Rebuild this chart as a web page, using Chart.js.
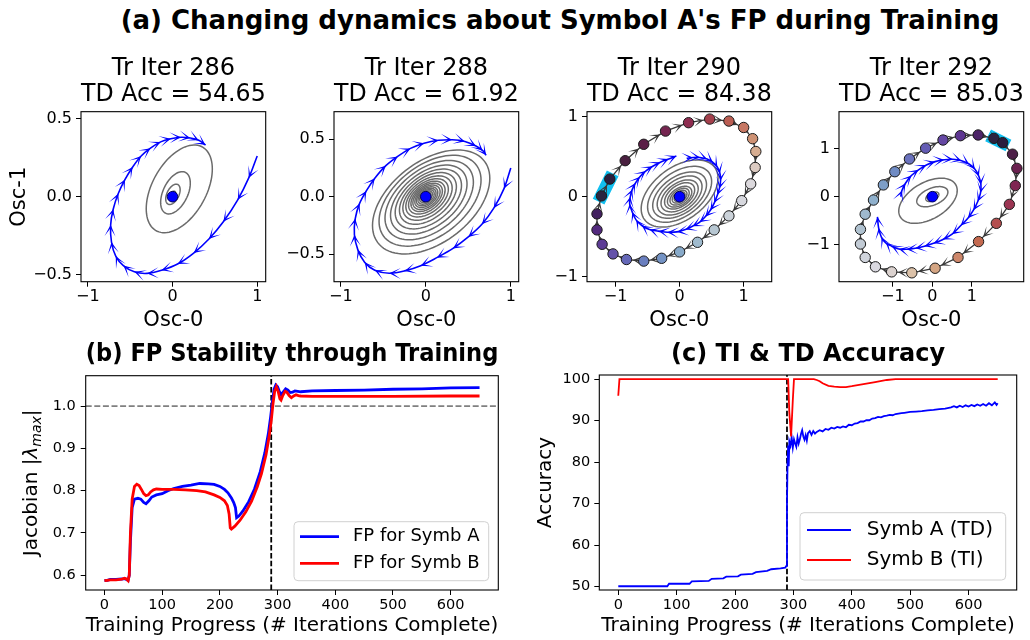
<!DOCTYPE html>
<html>
<head>
<meta charset="utf-8">
<title>FP dynamics during training</title>
<script src="https://cdn.jsdelivr.net/npm/chart.js@4.4.1/dist/chart.umd.min.js"></script>
<style>
  body { margin: 0; background: #fff; }
  #wrap { position: relative; width: 1030px; height: 640px; overflow: hidden; background: #fff; }
  #title { position: absolute; left: 45px; top: 5px; width: 1030px; text-align: center;
           font: bold 26px "DejaVu Sans"; line-height: 30px; color: #000; white-space: nowrap; }
  canvas { position: absolute; }
</style>
</head>
<body>
<div id="wrap">
  <div id="title">(a) Changing dynamics about Symbol A's FP during Training</div>
  <canvas id="p286" width="272" height="288" style="left:0px;top:50px"></canvas>
  <canvas id="p288" width="241" height="288" style="left:284px;top:50px"></canvas>
  <canvas id="p290" width="241" height="288" style="left:537px;top:50px"></canvas>
  <canvas id="p292" width="241" height="288" style="left:789px;top:50px"></canvas>
  <canvas id="stab" width="510" height="300" style="left:0px;top:340px"></canvas>
  <canvas id="acc" width="510" height="300" style="left:520px;top:340px"></canvas>
</div>
<script>
Chart.defaults.font.family = '"DejaVu Sans", sans-serif';
Chart.defaults.color = '#000';

// ---------- (a) phase portraits ----------
const snapIters = [286, 288, 290, 292];
const snapTdAcc = ['54.65', '61.92', '84.38', '85.03'];
const fixedPoint = [0, 0];

const unitTicks = [-1, 0, 1];
const unitTickLabels = ['\u22121', '0', '1'];
const halfTicks = [-0.5, 0, 0.5];
const halfTickLabels = ['\u22120.5', '0.0', '0.5'];

// axis limits per snapshot
const p286X = [-1.08, 1.10], p286Y = [-0.543, 0.543];
const p288X = [-1.08, 1.093], p288Y = [-0.739, 0.739];
const p290X = [-1.446, 1.438], p290Y = [-1.0625, 1.0625];
const p292X = [-2.363, 2.313], p292Y = [-1.77, 1.77];

// blue trajectories (Osc-0, Osc-1)
const p286TrajX = [1.0, 0.9, 0.77, 0.6, 0.43, 0.25, 0.06, -0.13, -0.3, -0.45, -0.58, -0.67, -0.72, -0.73, -0.7, -0.64, -0.56, -0.47, -0.37, -0.26, -0.14, -0.02, 0.1, 0.21, 0.31, 0.39];
const p286TrajY = [0.26, 0.12, -0.02, -0.16, -0.27, -0.36, -0.43, -0.47, -0.49, -0.48, -0.44, -0.38, -0.29, -0.18, -0.08, 0.02, 0.11, 0.19, 0.26, 0.31, 0.35, 0.37, 0.38, 0.375, 0.36, 0.33];

const p288TrajX = [1.0, 0.92, 0.8, 0.66, 0.5, 0.32, 0.13, -0.06, -0.25, -0.43, -0.6, -0.72, -0.8, -0.84, -0.83, -0.78, -0.7, -0.6, -0.47, -0.33, -0.18, -0.02, 0.15, 0.31, 0.46, 0.59, 0.67, 0.71];
const p288TrajY = [0.25, 0.07, -0.1, -0.24, -0.35, -0.45, -0.53, -0.6, -0.645, -0.665, -0.64, -0.57, -0.46, -0.33, -0.19, -0.06, 0.05, 0.16, 0.27, 0.35, 0.42, 0.465, 0.49, 0.495, 0.48, 0.44, 0.4, 0.36];

const p290TrajX = [0.11, 0.21, 0.32, 0.43, 0.52, 0.59, 0.63, 0.64, 0.62, 0.59, 0.54, 0.48, 0.4, 0.31, 0.2, 0.09, -0.04, -0.19, -0.33, -0.47, -0.59, -0.68, -0.74, -0.78, -0.77, -0.74, -0.69, -0.62, -0.53, -0.42, -0.3, -0.17, -0.05];
const p290TrajY = [0.48, 0.49, 0.49, 0.47, 0.43, 0.37, 0.29, 0.2, 0.1, 0.02, -0.08, -0.17, -0.25, -0.32, -0.37, -0.41, -0.44, -0.445, -0.43, -0.41, -0.36, -0.29, -0.19, -0.09, 0.0, 0.09, 0.17, 0.25, 0.32, 0.38, 0.43, 0.47, 0.51];

const p292TrajX = [-0.8, -0.77, -0.68, -0.53, -0.35, -0.15, 0.07, 0.3, 0.52, 0.74, 0.93, 1.08, 1.18, 1.23, 1.22, 1.15, 1.04, 0.9, 0.72, 0.5, 0.27, 0.03, -0.2, -0.43, -0.65, -0.85, -1.03, -1.18, -1.29, -1.36, -1.39];
const p292TrajY = [0.0, 0.13, 0.28, 0.44, 0.56, 0.66, 0.73, 0.77, 0.78, 0.75, 0.68, 0.57, 0.42, 0.25, 0.08, -0.1, -0.28, -0.45, -0.6, -0.78, -0.89, -0.97, -1.03, -1.075, -1.095, -1.09, -1.03, -0.96, -0.84, -0.65, -0.42];

// gray contours around the fixed point: [cx, cy, rx, ry]
const p286Rings = [[0.08, 0.05, 0.39, 0.28], [0.035, 0.025, 0.175, 0.135], [0.005, 0.015, 0.085, 0.065], [0, 0.005, 0.04, 0.03]];
const p288Rings = [[0.063, -0.046, 0.69, 0.452], [0.05, -0.035, 0.6, 0.395], [0.04, -0.03, 0.52, 0.345], [0.035, -0.025, 0.45, 0.3],
  [0.03, -0.02, 0.39, 0.26], [0.025, -0.015, 0.335, 0.225], [0.02, -0.012, 0.29, 0.193], [0.015, -0.01, 0.25, 0.166],
  [0.012, -0.008, 0.215, 0.143], [0.01, -0.006, 0.185, 0.123], [0.008, -0.005, 0.16, 0.106], [0.006, -0.004, 0.135, 0.09],
  [0.005, -0.003, 0.115, 0.076], [0.004, -0.002, 0.095, 0.063], [0.003, 0, 0.075, 0.05], [0.002, 0, 0.058, 0.039], [0, 0, 0.042, 0.028]];
const p290Rings = [[0, 0.04, 0.6, 0.42], [0, 0.03, 0.5, 0.35], [0, 0.02, 0.42, 0.29], [0, 0.015, 0.35, 0.245], [0, 0.01, 0.29, 0.2],
  [0, 0.01, 0.235, 0.165], [0, 0, 0.19, 0.13], [0, 0, 0.15, 0.105], [0, 0, 0.115, 0.08], [0, 0, 0.085, 0.06], [0, 0, 0.06, 0.04]];
const p292Rings = [[-0.11, -0.085, 0.74, 0.47], [0, 0, 0.394, 0.21], [0, 0, 0.165, 0.1], [0, 0, 0.07, 0.045]];
const ringTilt = 1.1;

// symbol B trajectory samples (outer loop)
const p290LoopX = [-1.22, -1.09, -0.85, -0.56, -0.22, 0.14, 0.47, 0.77, 1.0, 1.14, 1.19, 1.18, 1.11, 0.97, 0.77, 0.54, 0.28, 0.0, -0.28, -0.56, -0.83, -1.04, -1.21, -1.29, -1.29];
const p290LoopY = [0.01, 0.22, 0.45, 0.655, 0.82, 0.925, 0.97, 0.945, 0.865, 0.725, 0.565, 0.365, 0.16, -0.05, -0.24, -0.415, -0.57, -0.69, -0.77, -0.805, -0.785, -0.715, -0.595, -0.415, -0.215];
const p292LoopX = [1.56, 1.78, 2.03, 2.14, 2.1, 1.95, 1.62, 1.17, 0.65, 0.07, -0.52, -1.03, -1.44, -1.7, -1.82, -1.82, -1.7, -1.49, -1.24, -0.95, -0.58, -0.17, 0.27, 0.71, 1.16];
const p292LoopY = [1.215, 1.125, 0.885, 0.59, 0.23, -0.16, -0.555, -0.935, -1.265, -1.49, -1.585, -1.565, -1.46, -1.265, -0.985, -0.68, -0.365, -0.07, 0.245, 0.52, 0.785, 1.01, 1.18, 1.27, 1.285];

const p290LoopColors = ['#2a2541', '#2b1f3f', '#4a2040', '#5a1f46', '#752550', '#8e2d50', '#a4404c', '#bb5e53', '#c67763', '#ce9274', '#d6ad91', '#dccbc2',
  '#dcd9dd', '#d7d8de', '#cbd2d9', '#b7c7d2', '#9fbacd', '#88aac9', '#7493c4', '#6a7fbf', '#6467b7', '#6452a9', '#5d3c95', '#532a7e', '#42205f'];
const p292LoopColors = ['#2b2340', '#2a1e3e', '#4d1f48', '#6b2150', '#7f2652', '#9b3552', '#b44f4f', '#c3694f', '#cd876b', '#d4a583', '#dbc1a8', '#dbd2cf',
  '#dad9e0', '#d0d4dc', '#c2cbd5', '#b0c2d0', '#9fb9ce', '#8fb0cc', '#7d9ec7', '#6f8bc3', '#6a72bd', '#645cb4', '#6548a3', '#5e3691', '#4d2468'];

// ---------- (b) FP stability ----------
const symbAIter = [0, 5, 10, 20, 30, 35, 38, 41, 43, 45, 48, 52, 58, 63, 68, 72, 77, 82, 90, 100, 110, 120, 135, 150, 165, 180, 190, 200, 208, 214,
  220, 224, 227, 229, 233, 240, 250, 260, 270, 278, 284, 288, 291, 294, 297, 300, 303, 306, 310, 314, 318, 322, 326, 330, 335, 340, 360, 400, 450, 500, 550, 600, 650];
const symbAJac = [0.587, 0.588, 0.59, 0.59, 0.591, 0.592, 0.59, 0.588, 0.6, 0.68, 0.76, 0.78, 0.782, 0.78, 0.772, 0.769, 0.776, 0.785, 0.79, 0.793,
  0.8, 0.805, 0.81, 0.813, 0.817, 0.816, 0.815, 0.81, 0.803, 0.795, 0.783, 0.772, 0.76, 0.736, 0.74, 0.752, 0.774, 0.804, 0.845, 0.89,
  0.935, 0.975, 1.01, 1.04, 1.05, 1.046, 1.035, 1.027, 1.034, 1.041, 1.038, 1.032, 1.033, 1.036, 1.035, 1.034, 1.036, 1.037, 1.038, 1.04, 1.041, 1.043, 1.044];
const symbBIter = [0, 5, 10, 20, 30, 35, 38, 41, 43, 45, 48, 52, 56, 60, 64, 68, 72, 76, 80, 85, 90, 100, 120, 140, 160, 175, 190, 200, 208, 213,
  216, 218, 220, 226, 235, 245, 255, 265, 272, 280, 285, 289, 292, 295, 298, 301, 304, 306, 309, 313, 316, 320, 324, 328, 332, 336, 340, 360, 400, 500, 600, 650];
const symbBJac = [0.587, 0.588, 0.589, 0.589, 0.591, 0.593, 0.591, 0.587, 0.6, 0.7, 0.78, 0.81, 0.815, 0.812, 0.803, 0.793, 0.788, 0.79, 0.797, 0.802,
  0.804, 0.803, 0.803, 0.802, 0.8, 0.797, 0.79, 0.784, 0.776, 0.765, 0.745, 0.712, 0.709, 0.716, 0.73, 0.75, 0.775, 0.81, 0.84, 0.885,
  0.925, 0.965, 1.005, 1.035, 1.046, 1.035, 1.017, 1.014, 1.025, 1.035, 1.033, 1.025, 1.02, 1.024, 1.027, 1.025, 1.024, 1.023, 1.023, 1.023, 1.024, 1.024];
const jacUnity = 1.0;
const jacRange = [0.565, 1.072];
const jacTicks = [0.6, 0.7, 0.8, 0.9, 1.0];
const jacTickLabels = ['0.6', '0.7', '0.8', '0.9', '1.0'];

// ---------- (c) accuracy ----------
const tdIter = [0, 84, 87, 122, 126, 155, 160, 180, 185, 205, 210, 230, 236, 255, 262, 278, 286, 288, 289, 290, 291, 292, 293, 295, 297, 299, 301, 303, 305, 307,
  309, 311, 313, 315, 317, 319, 321, 323, 325, 328, 331, 334, 337, 340, 345, 350, 355, 360, 365, 370, 375, 380, 385, 390, 395, 400, 405, 410, 415, 420,
  425, 430, 435, 440, 445, 450, 455, 460, 465, 470, 475, 480, 485, 490, 495, 500, 510, 520, 530, 540, 550, 560, 570, 575, 580, 585, 590, 595, 600, 605,
  610, 615, 620, 625, 630, 635, 640, 645, 648, 650];
const tdAcc = [50.1, 50.1, 50.7, 50.7, 51.3, 51.4, 51.9, 52.0, 52.4, 52.5, 52.9, 53.1, 53.5, 53.8, 54.2, 54.4, 54.6, 55.0, 70, 80, 84, 79, 85, 84, 86, 83.5, 85.5, 84.5, 83.7, 86,
  84.5, 85.5, 86.8, 87.7, 86.2, 85.4, 86.5, 85.2, 87, 87.5, 86.6, 87.5, 86.9, 87.3, 87.7, 87.4, 88, 87.8, 88.3, 88.1, 88.5, 88.3, 88.6, 88.4, 89, 88.9, 89.3, 89.4, 89.8, 89.8,
  90.1, 90.1, 90.5, 90.6, 90.9, 90.8, 91.1, 91.2, 91.4, 91.3, 91.6, 91.7, 91.8, 91.9, 92, 92.1, 92.2, 92.3, 92.5, 92.6, 92.8, 92.9, 93.2, 93.5, 93.2, 93.6, 93.3, 93.7, 93.4, 93.8,
  93.5, 93.9, 93.6, 94, 93.6, 94.2, 93.7, 94.4, 93.8, 94.2];
const tiIter = [0, 2, 291, 293, 296, 299, 301, 335, 340, 345, 350, 360, 370, 380, 390, 400, 420, 440, 460, 475, 650];
const tiAcc = [96, 100, 100, 92, 86.2, 95, 100, 100, 99.8, 99.5, 99.0, 98.4, 98.2, 98.1, 98.1, 98.3, 98.8, 99.3, 99.8, 100, 100];
const accRange = [49.2, 101.0];
const accTicks = [50, 60, 70, 80, 90, 100];

const iterRange = [-32.5, 682.5];
const iterTicks = [0, 100, 200, 300, 400, 500, 600];
const transitionIter = 289;

// ---------- helpers ----------
const pts = (xs, ys) => xs.map((x, i) => ({ x: x, y: ys[i] }));

function zeroPad(s) { s.paddingLeft = 0; s.paddingRight = 0; s.paddingTop = 0; s.paddingBottom = 0; }

function fixedTicks(values) {
  return s => { s.ticks = values.map(v => ({ value: v })); };
}

function head(ctx, x, y, ang, len, half, notch, color) {
  ctx.save();
  ctx.translate(x, y);
  ctx.rotate(ang);
  ctx.beginPath();
  ctx.moveTo(0, 0);
  ctx.lineTo(-len, half);
  ctx.lineTo(-len + notch, 0);
  ctx.lineTo(-len, -half);
  ctx.closePath();
  ctx.fillStyle = color;
  ctx.fill();
  ctx.restore();
}

const arrowPlugin = {
  id: 'arrows',
  afterDatasetDraw(chart, args) {
    const ds = chart.data.datasets[args.index];
    if (!ds.arrowMode) return;
    const p = args.meta.data;
    const ctx = chart.ctx;
    for (let i = 1; i < p.length; i++) {
      const a = p[i - 1], b = p[i];
      if (ds.arrowMode === 'ring') {
        const ang = Math.atan2(b.y - a.y, b.x - a.x);
        head(ctx, b.x - Math.cos(ang) * 6.5, b.y - Math.sin(ang) * 6.5, ang, 10, 5, 6.5, ds.borderColor);
      } else {
        const c = p[i + 1] || b;
        const ang = Math.atan2(c.y - a.y, c.x - a.x);
        head(ctx, b.x, b.y, ang, 11.5, 5.5, 8, ds.borderColor);
      }
    }
  }
};

function contourPlugin(list, tilt) {
  return {
    id: 'contours',
    beforeDatasetsDraw(chart) {
      const { ctx, chartArea: a } = chart;
      const sx = chart.scales.x, sy = chart.scales.y;
      ctx.save();
      ctx.beginPath();
      ctx.rect(a.left, a.top, a.width, a.height);
      ctx.clip();
      ctx.strokeStyle = '#6b6b6b';
      ctx.lineWidth = 1.5;
      list.forEach(([cx, cy, rx, ry]) => {
        ctx.beginPath();
        for (let k = 0; k <= 90; k++) {
          const t = k / 90 * 2 * Math.PI;
          const px = sx.getPixelForValue(cx + rx * Math.cos(t));
          const py = sy.getPixelForValue(cy + ry * Math.cos(t - tilt));
          if (k) ctx.lineTo(px, py); else ctx.moveTo(px, py);
        }
        ctx.closePath();
        ctx.stroke();
      });
      ctx.restore();
    }
  };
}

const framePlugin = {
  id: 'frame',
  afterDatasetsDraw(chart) {
    const { ctx, chartArea: a } = chart;
    ctx.save();
    ctx.strokeStyle = '#000';
    ctx.lineWidth = 1.1;
    ctx.strokeRect(a.left, a.top, a.width, a.height);
    ctx.restore();
  }
};

function tickGrid() {
  return { drawOnChartArea: false, drawTicks: true, tickLength: 5, tickWidth: 1, tickColor: '#000', color: '#000' };
}

function phasePanel(id, o) {
  const datasets = [];
  if (o.loopX) {
    const loop = pts(o.loopX, o.loopY);
    datasets.push({ data: loop.slice(0, 2), borderColor: '#12bff0', borderWidth: 13, borderCapStyle: 'square', pointRadius: 0, order: 6 });
    datasets.push({ data: loop.concat([loop[0]]), borderColor: '#383838', borderWidth: 1.3, pointRadius: 0, arrowMode: 'ring', order: 5 });
    datasets.push({ data: loop, showLine: false, pointRadius: 5.2, pointBackgroundColor: o.loopColors,
      pointBorderColor: '#1a1a1a', pointBorderWidth: 1, order: 4 });
  }
  datasets.push({ data: pts(o.trajX, o.trajY), borderColor: '#0000ff', borderWidth: 1.6, tension: 0.35, pointRadius: 0, arrowMode: 'traj', order: 3 });
  datasets.push({ data: [{ x: fixedPoint[0], y: fixedPoint[1] }], showLine: false, pointRadius: 5.3, pointBackgroundColor: '#0000ff',
    pointBorderColor: '#00005a', pointBorderWidth: 1, order: 1 });

  const yW = o.yTitle ? 81 : 50;
  new Chart(document.getElementById(id), {
    type: 'line',
    data: { datasets: datasets },
    options: {
      responsive: false, animation: false, events: [],
      layout: { padding: { right: 3 } },
      plugins: {
        legend: { display: false }, tooltip: { enabled: false },
        title: { display: true, fullSize: false, text: ['Tr Iter ' + o.iter, 'TD Acc = ' + o.acc], color: '#000',
          font: { size: 24, weight: 'normal', lineHeight: 1.11 }, padding: { top: 5.1, bottom: 3.3 } }
      },
      scales: {
        x: {
          type: 'linear', min: o.xr[0], max: o.xr[1],
          afterBuildTicks: fixedTicks(unitTicks),
          afterFit: s => { s.height = 56.3; zeroPad(s); },
          ticks: { font: { size: 16 }, padding: 1, autoSkip: false, maxRotation: 0, callback: (v, i) => unitTickLabels[i] },
          grid: tickGrid(), border: { display: false },
          title: { display: true, text: 'Osc-0', font: { size: 21 }, padding: { top: 0, bottom: 4.7 } }
        },
        y: {
          type: 'linear', min: o.yr[0], max: o.yr[1],
          afterBuildTicks: fixedTicks(o.yTicks),
          afterFit: s => { s.width = yW; zeroPad(s); },
          ticks: { font: { size: 16 }, padding: 4, autoSkip: false, callback: (v, i) => o.yLabels[i] },
          grid: tickGrid(), border: { display: false },
          title: { display: !!o.yTitle, text: o.yTitle || '', font: { size: 21 }, padding: { top: 6.8, bottom: 0 } }
        }
      }
    },
    plugins: [contourPlugin(o.rings, ringTilt), arrowPlugin, framePlugin]
  });
}

phasePanel('p286', { iter: snapIters[0], acc: snapTdAcc[0], xr: p286X, yr: p286Y, yTicks: halfTicks, yLabels: halfTickLabels, yTitle: 'Osc-1',
  trajX: p286TrajX, trajY: p286TrajY, rings: p286Rings });
phasePanel('p288', { iter: snapIters[1], acc: snapTdAcc[1], xr: p288X, yr: p288Y, yTicks: halfTicks, yLabels: halfTickLabels,
  trajX: p288TrajX, trajY: p288TrajY, rings: p288Rings });
phasePanel('p290', { iter: snapIters[2], acc: snapTdAcc[2], xr: p290X, yr: p290Y, yTicks: unitTicks, yLabels: unitTickLabels,
  trajX: p290TrajX, trajY: p290TrajY, rings: p290Rings, loopX: p290LoopX, loopY: p290LoopY, loopColors: p290LoopColors });
phasePanel('p292', { iter: snapIters[3], acc: snapTdAcc[3], xr: p292X, yr: p292Y, yTicks: unitTicks, yLabels: unitTickLabels,
  trajX: p292TrajX, trajY: p292TrajY, rings: p292Rings, loopX: p292LoopX, loopY: p292LoopY, loopColors: p292LoopColors });

// ---------- bottom row ----------
function roundedRect(ctx, x, y, w, h, r) {
  ctx.beginPath();
  ctx.moveTo(x + r, y);
  ctx.lineTo(x + w - r, y); ctx.quadraticCurveTo(x + w, y, x + w, y + r);
  ctx.lineTo(x + w, y + h - r); ctx.quadraticCurveTo(x + w, y + h, x + w - r, y + h);
  ctx.lineTo(x + r, y + h); ctx.quadraticCurveTo(x, y + h, x, y + h - r);
  ctx.lineTo(x, y + r); ctx.quadraticCurveTo(x, y, x + r, y);
  ctx.closePath();
}

function boxLegend(cfg) {
  return {
    id: 'boxLegend',
    afterDraw(chart) {
      const { ctx, chartArea: a } = chart;
      const items = chart.data.datasets.filter(d => d.label);
      const x0 = a.right - cfg.right - cfg.w;
      const y0 = a.bottom - cfg.bottom - cfg.h;
      ctx.save();
      roundedRect(ctx, x0, y0, cfg.w, cfg.h, 4);
      ctx.fillStyle = 'rgba(255,255,255,0.8)';
      ctx.fill();
      ctx.strokeStyle = '#d0d0d0';
      ctx.lineWidth = 1;
      ctx.stroke();
      ctx.font = cfg.size + 'px "DejaVu Sans"';
      ctx.textBaseline = 'middle';
      ctx.fillStyle = '#000';
      items.forEach((d, i) => {
        const y = y0 + cfg.first + i * cfg.row;
        ctx.strokeStyle = d.borderColor;
        ctx.lineWidth = d.borderWidth;
        ctx.beginPath();
        ctx.moveTo(x0 + cfg.lx, y);
        ctx.lineTo(x0 + cfg.lx + cfg.len, y);
        ctx.stroke();
        ctx.fillText(d.label, x0 + cfg.tx, y);
      });
      ctx.restore();
    }
  };
}

// y label with subscript: Jacobian |λ_max|
const jacLabel = {
  id: 'jacLabel',
  afterDraw(chart) {
    const { ctx, chartArea: a } = chart;
    const parts = [['Jacobian |', '20px "DejaVu Sans"', 0], ['\u03bb', 'italic 20px "DejaVu Sans"', 0],
      ['max', 'italic 14px "DejaVu Sans"', 4], ['|', '20px "DejaVu Sans"', 0]];
    ctx.save();
    let total = 0;
    parts.forEach(p => { ctx.font = p[1]; total += ctx.measureText(p[0]).width; });
    ctx.translate(36.5, (a.top + a.bottom) / 2);
    ctx.rotate(-Math.PI / 2);
    ctx.fillStyle = '#000';
    ctx.textBaseline = 'alphabetic';
    let x = -total / 2;
    parts.forEach(p => { ctx.font = p[1]; ctx.fillText(p[0], x, p[2]); x += ctx.measureText(p[0]).width; });
    ctx.restore();
  }
};

function iterAxis() {
  return {
    type: 'linear', min: iterRange[0], max: iterRange[1],
    afterBuildTicks: fixedTicks(iterTicks),
    afterFit: s => { s.height = 50; zeroPad(s); },
    ticks: { font: { size: 14.5 }, padding: 2, autoSkip: false, maxRotation: 0 },
    grid: tickGrid(), border: { display: false },
    title: { display: true, text: 'Training Progress (# Iterations Complete)', font: { size: 20 }, padding: { top: 0, bottom: 2.4 } }
  };
}

new Chart(document.getElementById('stab'), {
  type: 'line',
  data: {
    datasets: [
      { label: 'FP for Symb A', data: pts(symbAIter, symbAJac), borderColor: '#0000ff', borderWidth: 2.8, pointRadius: 0, order: 2 },
      { label: 'FP for Symb B', data: pts(symbBIter, symbBJac), borderColor: '#ff0000', borderWidth: 2.8, pointRadius: 0, order: 1 },
      { data: [{ x: iterRange[0], y: jacUnity }, { x: iterRange[1], y: jacUnity }], borderColor: '#808080', borderWidth: 1.8,
        borderDash: [6, 2.6], pointRadius: 0, order: 4 },
      { data: [{ x: transitionIter, y: jacRange[0] }, { x: transitionIter, y: jacRange[1] }], borderColor: '#000', borderWidth: 1.8,
        borderDash: [5.5, 2.4], pointRadius: 0, order: 3 }
    ]
  },
  options: {
    responsive: false, animation: false, events: [],
    layout: { padding: { right: 11.7 } },
    plugins: {
      legend: { display: false }, tooltip: { enabled: false },
      title: { display: true, fullSize: false, text: '(b) FP Stability through Training', color: '#000',
        font: { size: 24, weight: 'bold', lineHeight: 1.2 }, padding: { top: 0, bottom: 6.9 } }
    },
    scales: {
      x: iterAxis(),
      y: {
        type: 'linear', min: jacRange[0], max: jacRange[1],
        afterBuildTicks: fixedTicks(jacTicks),
        afterFit: s => { s.width = 85.7; zeroPad(s); },
        ticks: { font: { size: 14.5 }, padding: 5, autoSkip: false, callback: (v, i) => jacTickLabels[i] },
        grid: tickGrid(), border: { display: false }
      }
    }
  },
  plugins: [framePlugin, jacLabel,
    boxLegend({ w: 194.7, h: 59, right: 9.6, bottom: 9.3, first: 15, row: 26.6, lx: 6, len: 39, tx: 59, size: 18 })]
});

new Chart(document.getElementById('acc'), {
  type: 'line',
  data: {
    datasets: [
      { label: 'Symb A (TD)', data: pts(tdIter, tdAcc), borderColor: '#0000ff', borderWidth: 1.8, pointRadius: 0, order: 2 },
      { label: 'Symb B (TI)', data: pts(tiIter, tiAcc), borderColor: '#ff0000', borderWidth: 1.8, pointRadius: 0, order: 1 },
      { data: [{ x: transitionIter, y: accRange[0] }, { x: transitionIter, y: accRange[1] }], borderColor: '#000', borderWidth: 1.8,
        borderDash: [5.5, 2.4], pointRadius: 0, order: 3 }
    ]
  },
  options: {
    responsive: false, animation: false, events: [],
    layout: { padding: { right: 13.3 } },
    plugins: {
      legend: { display: false }, tooltip: { enabled: false },
      title: { display: true, fullSize: false, text: '(c) TI & TD Accuracy', color: '#000',
        font: { size: 24, weight: 'bold', lineHeight: 1.2 }, padding: { top: 0, bottom: 6.2 } }
    },
    scales: {
      x: iterAxis(),
      y: {
        type: 'linear', min: accRange[0], max: accRange[1],
        afterBuildTicks: fixedTicks(accTicks),
        afterFit: s => { s.width = 79.3; zeroPad(s); },
        ticks: { font: { size: 14.5 }, padding: 4, autoSkip: false },
        grid: tickGrid(), border: { display: false },
        title: { display: true, text: 'Accuracy', font: { size: 20 }, padding: { top: 14, bottom: 0 } }
      }
    }
  },
  plugins: [framePlugin,
    boxLegend({ w: 205.7, h: 67.3, right: 11, bottom: 10, first: 17.3, row: 30, lx: 7, len: 44, tx: 66.7, size: 20 })]
});
</script>
</body>
</html>
